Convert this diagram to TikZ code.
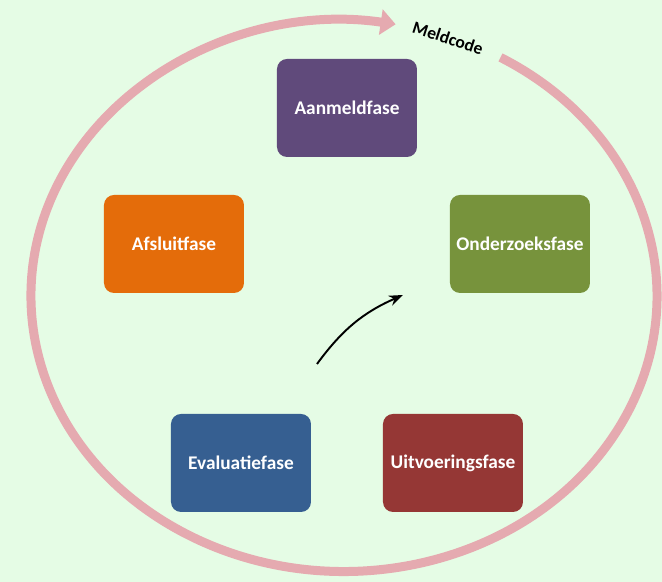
\documentclass[tikz,border=0pt]{standalone}
\usepackage{fontspec}
\setmainfont{Carlito}
\usepackage{xcolor}
\usepackage{tikz}
\usetikzlibrary{arrows.meta, positioning}

\definecolor{bgmint}{RGB}{229,252,229}
\definecolor{ringpink}{RGB}{229,170,176}
\definecolor{aanmeld}{RGB}{96,74,123}
\definecolor{afsluit}{RGB}{228,108,10}
\definecolor{onderzoek}{RGB}{119,147,60}
\definecolor{evaluatie}{RGB}{54,95,145}
\definecolor{uitvoering}{RGB}{149,55,53}

\begin{document}
\begin{tikzpicture}[
    fase/.style={rectangle, rounded corners=0.2cm, minimum width=2.8cm, minimum height=1.96cm, align=center, text=white, font=\fontsize{11}{13}\selectfont\bfseries},
    ring/.style={draw=ringpink, line width=0.18cm},
    arrow/.style={-{Stealth}, line width=1.1pt}
]
    \fill[bgmint] (-6.88,-5.72) rectangle (6.36,5.92);
    \useasboundingbox (-6.88,-5.72) rectangle (6.36,5.92);

    \coordinate (centre) at (0,0);
    \draw[ring, -{Triangle[width=0.5cm, length=0.3cm]}] (centre) ++(60:6.26 and 5.51) arc[start angle=60, end angle=-279.5, x radius=6.26, y radius=5.51];
    \node[rotate=-18, font=\fontsize{10}{11}\selectfont\bfseries] (meldcode) at (2.08,5.16) {Meldcode};

    \node[fase, fill=aanmeld] (aanmeld) at (0.06,3.76) {Aanmeldfase};
    \node[fase, fill=afsluit] (afsluit) at (-3.40,1.04) {Afsluitfase};
    \node[fase, fill=onderzoek] (onderzoek) at (3.52,1.04) {Onderzoeksfase};
    \node[fase, fill=evaluatie] (evaluatie) at (-2.06,-3.34) {Evaluatiefase};
    \node[fase, fill=uitvoering] (uitvoering) at (2.18,-3.34) {Uitvoeringsfase};

    \coordinate (pijlstart) at (-0.54,-1.36);
    \coordinate (pijleind) at (1.18,0.02);
    \draw[arrow] (pijlstart) to[bend left=15] (pijleind);
\end{tikzpicture}
\end{document}
